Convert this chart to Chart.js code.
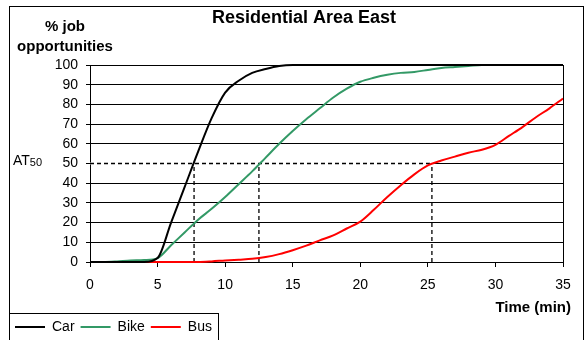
<!DOCTYPE html>
<html>
<head>
<meta charset="utf-8">
<script src="https://cdn.jsdelivr.net/npm/chart.js@4.4.1/dist/chart.umd.min.js"></script>
<style>
  html, body { margin: 0; padding: 0; background: #fff; }
</style>
</head>
<body>
<canvas id="chart" width="585" height="340"></canvas>
<script>
// travel time in minutes (x values)
const minutes = [0, 1, 2, 3, 4, 5, 6, 7, 8, 9, 10, 11, 12, 13, 14, 15, 16, 17,
  18, 19, 20, 21, 22, 23, 24, 25, 26, 27, 28, 29, 30, 31, 32, 33, 34, 35];

// % of job opportunities reachable
const car = [0, 0, 0, 0, 0, 2, 20, 38, 56, 73, 86, 92, 96, 98, 99.5, 100, 100, 100,
  100, 100, 100, 100, 100, 100, 100, 100, 100, 100, 100, 100, 100, 100, 100, 100, 100, 100];
const bike = [0, 0, 0.3, 0.8, 1, 2, 8.5, 15, 21.5, 27, 33, 39.5, 46, 53, 60, 66.5, 72.5, 78,
  83.5, 88, 91.5, 93.5, 95, 96, 96.5, 97.5, 98.5, 99, 99.5, 100, 100, 100, 100, 100, 100, 100];
const bus = [0, 0, 0, 0, 0, 0, 0, 0, 0, 0.3, 0.8, 1.2, 1.6, 2.5, 4, 6, 8.3, 11,
  13.5, 17, 20.5, 26.5, 33, 39, 44.5, 49, 51.5, 53.5, 55.5, 57, 59.5, 64, 68.5, 73.5, 78, 83];

// time to reach 50 % (car, bike, bus)
const at50Times = [7.7, 12.5, 25.3];

const FONT = '"Liberation Sans", Arial, sans-serif';

const toPoints = (vals) => minutes.map((m, i) => ({ x: m, y: vals[i] }));

const curve = (label, vals, color) => ({
  label,
  data: toPoints(vals),
  borderColor: color,
  backgroundColor: color,
  borderWidth: 2,
  pointRadius: 0,
  cubicInterpolationMode: 'monotone',
  clip: false,
  order: 0
});

const guide = (pts, color, dash, width, order) => ({
  label: '',
  data: pts,
  borderColor: color,
  borderWidth: width,
  borderDash: dash,
  pointRadius: 0,
  tension: 0,
  order
});

const maxAt50 = Math.max(...at50Times);
const datasets = [
  curve('Car', car, '#000000'),
  curve('Bike', bike, '#339966'),
  curve('Bus', bus, '#ff0000'),
  // white underlay hides the solid 50 gridline under the dashed part
  guide([{ x: 0, y: 50 }, { x: maxAt50, y: 50 }], '#ffffff', [], 2, 2),
  guide([{ x: 0, y: 50 }, { x: maxAt50, y: 50 }], '#000000', [4, 3], 1.3, 1),
  ...at50Times.map(t => guide([{ x: t, y: 0 }, { x: t, y: 50 }], '#000000', [4, 3], 1.3, 1))
];

// frame, titles and legend box
const extras = {
  id: 'extras',
  afterDraw(chart) {
    const ctx = chart.ctx;
    const area = chart.chartArea;
    const lg = chart.legend;
    ctx.save();
    ctx.strokeStyle = '#000';
    ctx.lineWidth = 1;
    ctx.strokeRect(9.5, 6.5, 574, 340);

    const rx = Math.round(area.right) + 0.5;
    ctx.beginPath();
    ctx.moveTo(rx, area.top);
    ctx.lineTo(rx, area.bottom);
    ctx.stroke();

    const hb = lg.legendHitBoxes;
    const last = hb[hb.length - 1];
    ctx.strokeRect(9.5, 313.5, Math.round(last.left + last.width + 6 - 9), 40);

    ctx.fillStyle = '#000';
    ctx.textBaseline = 'middle';
    ctx.textAlign = 'center';
    ctx.font = 'bold 18px ' + FONT;
    ctx.fillText('Residential Area East', 304, 18);
    ctx.font = 'bold 15px ' + FONT;
    ctx.fillText('% job', 65, 27);
    ctx.fillText('opportunities', 65, 47);
    ctx.textAlign = 'right';
    ctx.fillText('Time (min)', 571, 308);

    const y50 = chart.scales.y.getPixelForValue(50);
    ctx.textAlign = 'left';
    ctx.font = '14px ' + FONT;
    ctx.fillText('AT', 13, y50 - 2);
    const w = ctx.measureText('AT').width;
    ctx.font = '11px ' + FONT;
    ctx.fillText('50', 13 + w, y50 - 1);
    ctx.restore();
  }
};

new Chart(document.getElementById('chart'), {
  type: 'line',
  data: { datasets },
  options: {
    responsive: false,
    animation: false,
    layout: { padding: { left: 9, right: 22, top: 65, bottom: -4 } },
    scales: {
      x: {
        type: 'linear',
        min: 0,
        max: 35,
        afterFit: (s) => { s.height = s.chart.height + 4 - 262 - s.chart.legend.height; },
        ticks: { stepSize: 5, padding: 10, autoSkip: false, color: '#000', font: { family: FONT, size: 14 } },
        grid: { drawOnChartArea: false, drawTicks: true, tickLength: 5, color: '#000' },
        border: { display: true, color: '#000' }
      },
      y: {
        min: 0,
        max: 100,
        afterFit: (s) => { s.width = 81; },
        ticks: { stepSize: 10, padding: 8, autoSkip: false, color: '#000', font: { family: FONT, size: 14 } },
        grid: { color: '#000', tickLength: 4 },
        border: { display: true, color: '#000' }
      }
    },
    plugins: {
      title: { display: false },
      tooltip: { enabled: false },
      legend: {
        position: 'bottom',
        align: 'start',
        labels: {
          usePointStyle: true,
          pointStyle: 'line',
          pointStyleWidth: 30,
          padding: 6,
          color: '#000',
          font: { family: FONT, size: 14 },
          filter: (item) => item.datasetIndex < 3
        }
      }
    }
  },
  plugins: [extras]
});
</script>
</body>
</html>
